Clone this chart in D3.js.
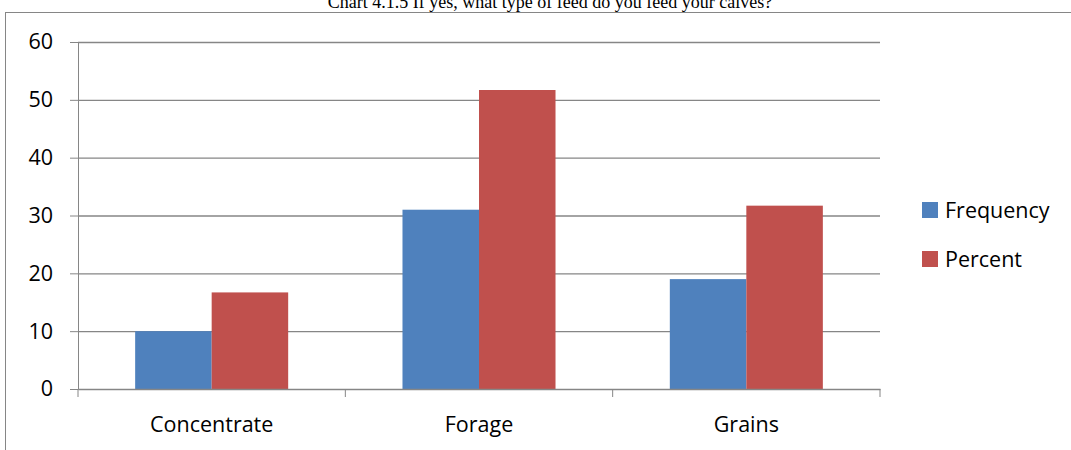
<!DOCTYPE html>
<html>
<head>
<meta charset="utf-8">
<script src="https://cdn.jsdelivr.net/npm/d3@7"></script>
<style>
  body { margin: 0; background: #fff; }
  svg { display: block; }
</style>
</head>
<body>
<div id="chart"></div>
<script>
// chart values
const categories = ['Concentrate', 'Forage', 'Grains'];
const seriesNames = ['Frequency', 'Percent'];
const frequency = [10, 31, 19];
const percent = [16.7, 51.7, 31.7];
const yTicks = [0, 10, 20, 30, 40, 50, 60];
const title = 'Chart 4.1.5 If yes, what type of feed do you feed your calves?';

const W = 1071, H = 450;
const margin = { top: 42, right: 191, bottom: 61, left: 78 };
const width = W - margin.left - margin.right;
const height = H - margin.top - margin.bottom;
const colors = { Frequency: '#4F81BD', Percent: '#C0504D' };
const font = '"Open Sans", Lato, sans-serif';
const fontSize = '21.5px';

const svg = d3.select('#chart').append('svg')
  .attr('width', W).attr('height', H);

// outer chart frame (clipped at the right and bottom like the source)
svg.append('rect')
  .attr('x', 5.5).attr('y', 12.5)
  .attr('width', W + 10).attr('height', H + 10)
  .attr('fill', 'none').attr('stroke', '#868686').attr('stroke-width', 1);

svg.append('text')
  .attr('x', 550).attr('y', 8)
  .attr('text-anchor', 'middle')
  .attr('font-family', '"Liberation Serif", "Times New Roman", serif')
  .attr('font-size', '18px').attr('fill', '#000')
  .text(title);

const g = svg.append('g')
  .attr('transform', `translate(${margin.left},${margin.top})`);

const x0 = d3.scaleBand().domain(categories).range([0, width]).paddingInner(0).paddingOuter(0);
const x1 = d3.scaleBand().domain(seriesNames).range([0, x0.bandwidth()]).paddingInner(0).paddingOuter(0.747);
const y = d3.scaleLinear().domain([0, 60]).range([height, 0]);

// gridlines
g.append('g')
  .call(d3.axisLeft(y).tickValues(yTicks.slice(1)).tickSize(-width).tickFormat(''))
  .call(a => a.select('.domain').remove())
  .call(a => a.selectAll('line').attr('stroke', '#868686').attr('stroke-width', 1.3));

// bars
const rows = categories.map((c, i) => ({ cat: c, Frequency: frequency[i], Percent: percent[i] }));
g.selectAll('.grp')
  .data(rows)
  .join('g').attr('class', 'grp')
  .attr('transform', d => `translate(${x0(d.cat)},0)`)
  .selectAll('rect')
  .data(d => seriesNames.map(s => ({ key: s, value: d[s] })))
  .join('rect')
  .attr('x', d => x1(d.key))
  .attr('y', d => y(d.value))
  .attr('width', x1.bandwidth())
  .attr('height', d => height - y(d.value))
  .attr('fill', d => colors[d.key]);

// y axis
g.append('g')
  .call(d3.axisLeft(y).tickValues(yTicks).tickSize(8).tickPadding(17))
  .call(a => a.selectAll('line').attr('stroke', '#868686'))
  .call(a => a.select('.domain').attr('stroke', '#868686'))
  .call(a => a.selectAll('text').attr('font-family', font).attr('font-size', fontSize).attr('fill', '#000'));

// x axis
const xAxis = g.append('g')
  .attr('transform', `translate(0,${height})`)
  .call(d3.axisBottom(x0).tickSize(0).tickPadding(28))
  .call(a => a.select('.domain').attr('stroke', '#868686').attr('stroke-width', 1.3))
  .call(a => a.selectAll('text').attr('font-family', font).attr('font-size', fontSize).attr('fill', '#000'));

// category separator ticks
xAxis.selectAll('.sep')
  .data(d3.range(categories.length + 1))
  .join('line').attr('class', 'sep')
  .attr('x1', i => i * x0.step()).attr('x2', i => i * x0.step())
  .attr('y1', 0).attr('y2', 8)
  .attr('stroke', '#868686');

// legend
const legend = svg.append('g').attr('transform', 'translate(922,202)');
seriesNames.forEach((s, i) => {
  const lg = legend.append('g').attr('transform', `translate(0,${i * 49})`);
  lg.append('rect').attr('width', 16).attr('height', 16).attr('fill', colors[s]);
  lg.append('text')
    .attr('x', 23).attr('y', 16)
    .attr('font-family', font).attr('font-size', fontSize).attr('fill', '#000')
    .text(s);
});
</script>
</body>
</html>
